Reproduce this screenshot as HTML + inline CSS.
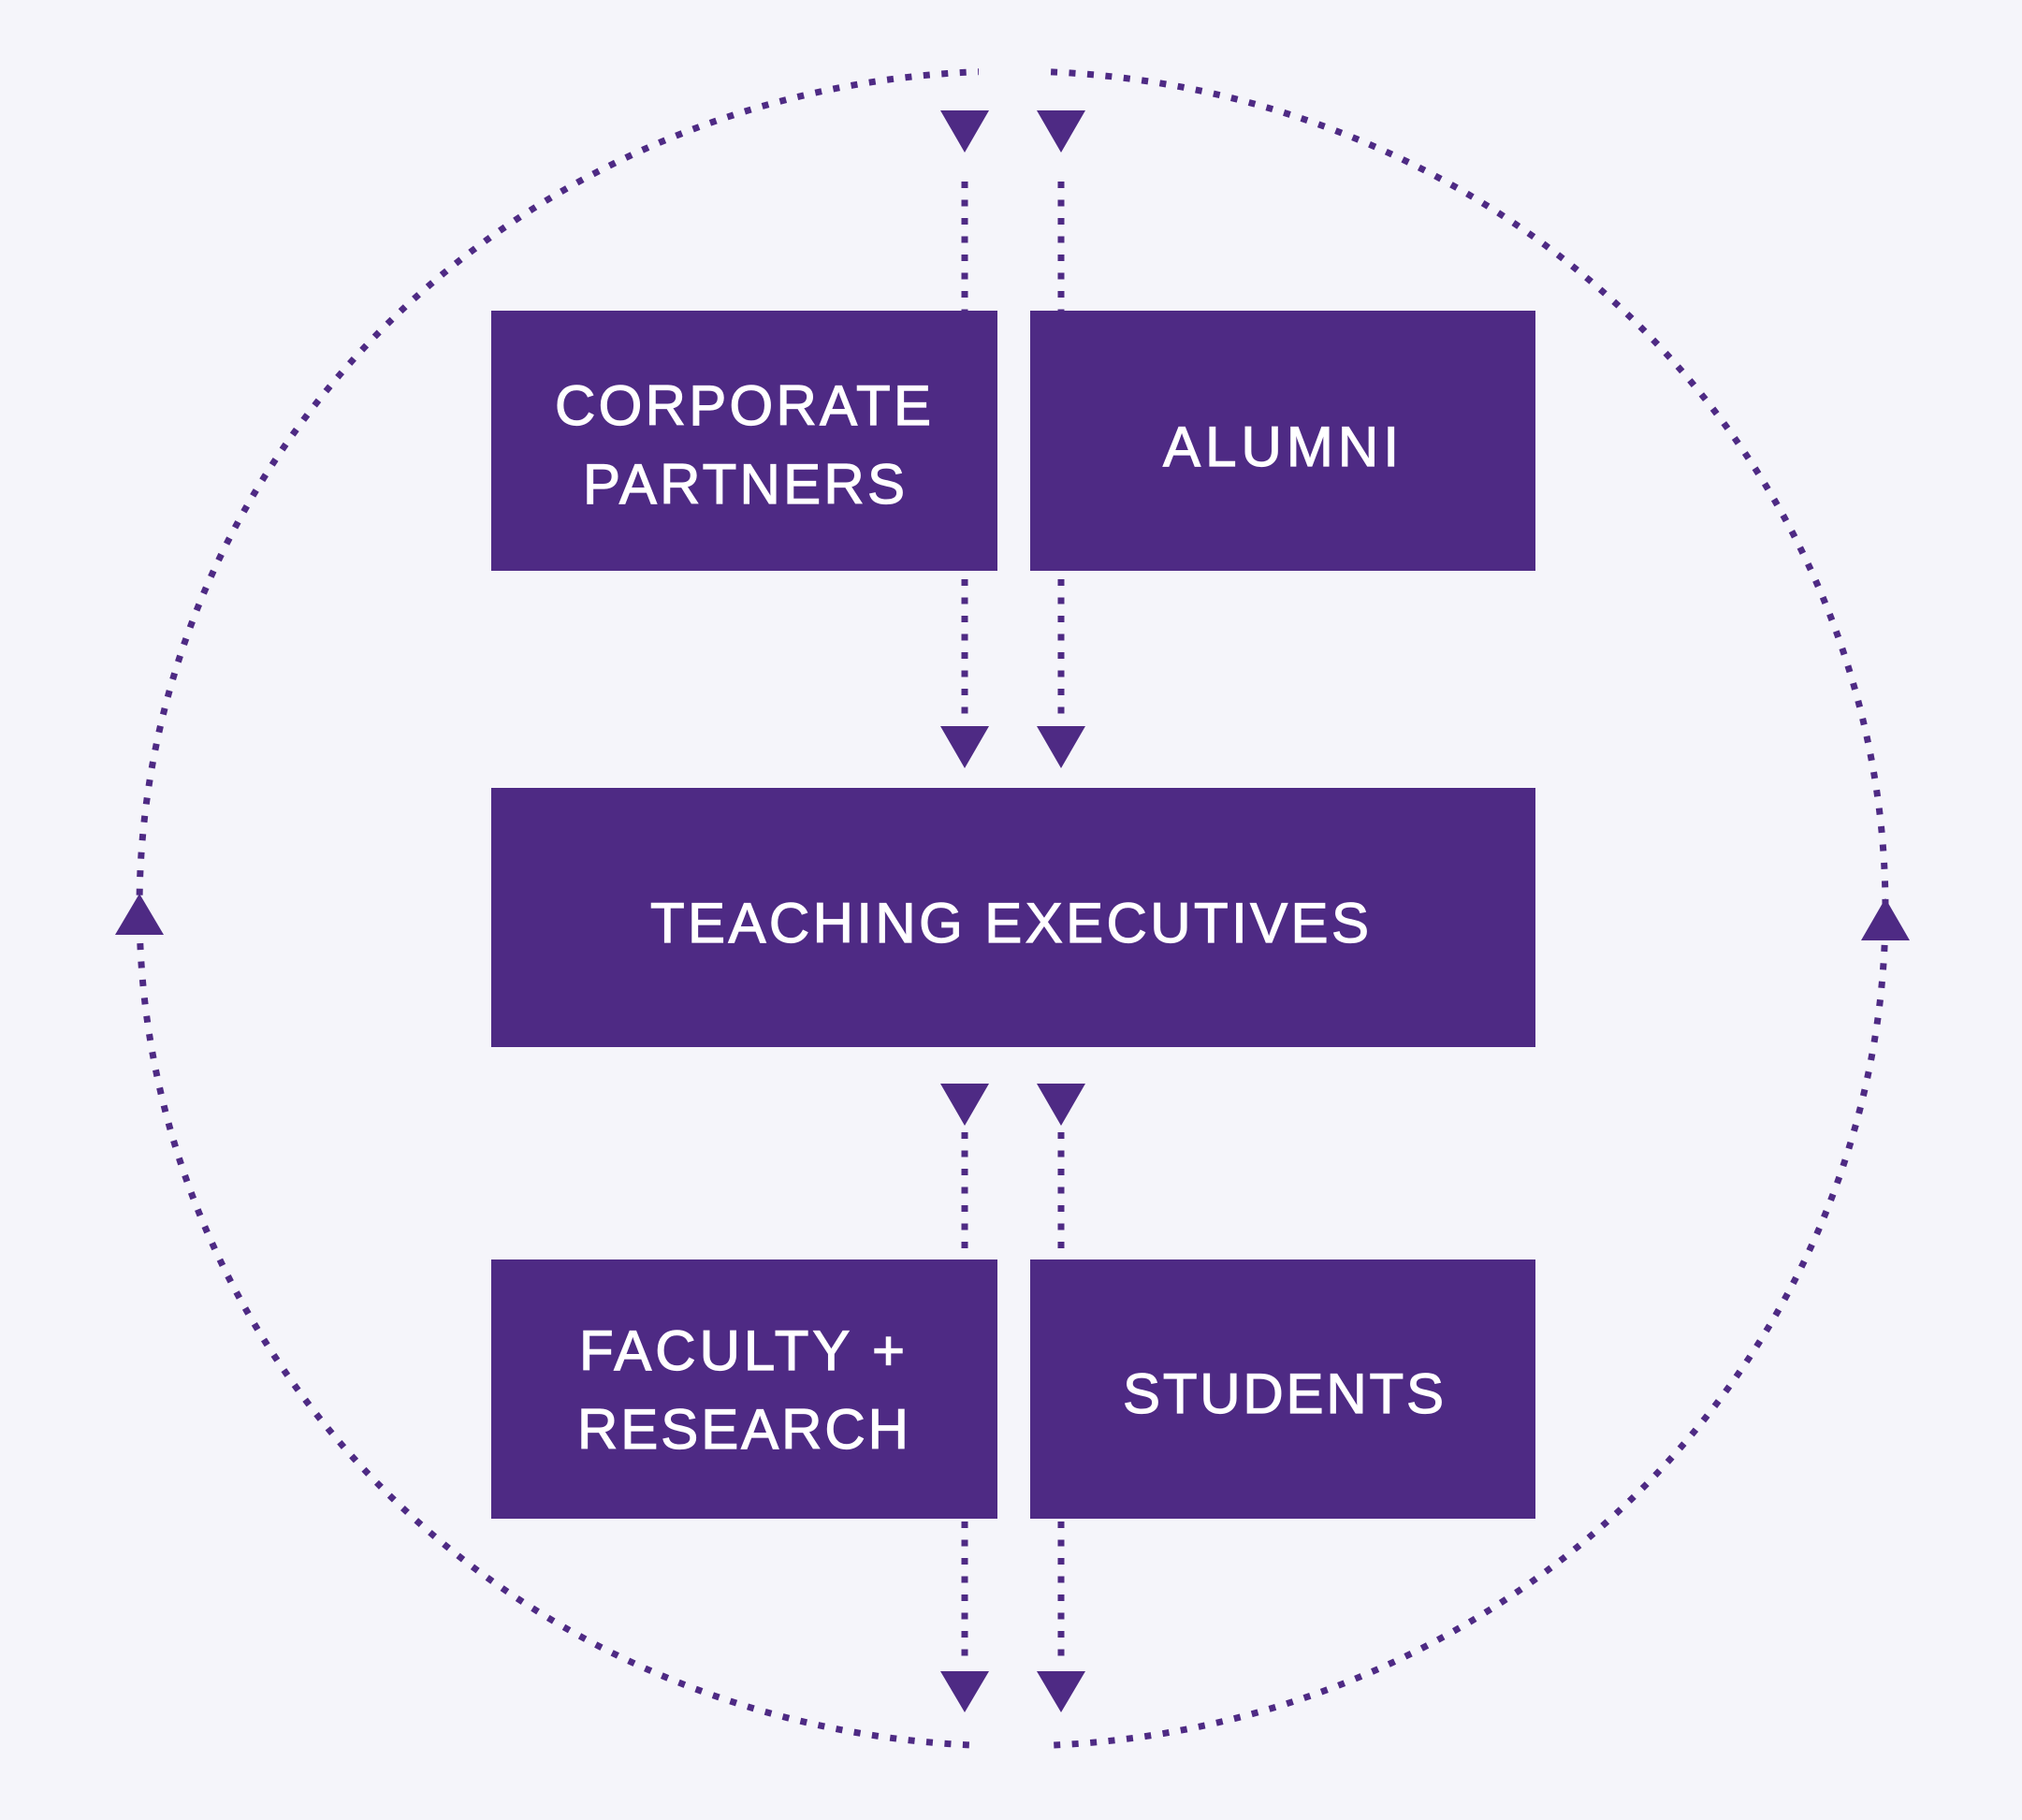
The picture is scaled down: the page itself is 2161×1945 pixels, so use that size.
<!DOCTYPE html>
<html><head><style>html,body{margin:0;padding:0;background:#f5f5fa;}svg{display:block}</style></head>
<body>
<svg width="2161" height="1945" viewBox="0 0 2161 1945" xmlns="http://www.w3.org/2000/svg">
<rect width="2161" height="1945" fill="#f5f5fa"/>
<g fill="none" stroke="#4e2a84" stroke-width="7" stroke-dasharray="7 12.5">
<ellipse cx="1082" cy="971" rx="933" ry="895"/>
<line x1="1031" y1="194" x2="1031" y2="333"/>
<line x1="1134" y1="194" x2="1134" y2="333"/>
<line x1="1031" y1="619" x2="1031" y2="770"/>
<line x1="1134" y1="619" x2="1134" y2="770"/>
<line x1="1031" y1="1210" x2="1031" y2="1340"/>
<line x1="1134" y1="1210" x2="1134" y2="1340"/>
<line x1="1031" y1="1626" x2="1031" y2="1778"/>
<line x1="1134" y1="1626" x2="1134" y2="1778"/>
</g>
<rect x="1046" y="60" width="74" height="40" fill="#f5f5fa"/>
<rect x="1046" y="1845" width="74" height="40" fill="#f5f5fa"/>
<g fill="#4e2a84">
<rect x="525" y="332" width="541" height="278"/>
<rect x="1101" y="332" width="540" height="278"/>
<rect x="525" y="842" width="1116" height="277"/>
<rect x="525" y="1346" width="541" height="277"/>
<rect x="1101" y="1346" width="540" height="277"/>
<polygon points="1005,118 1057,118 1031,163"/>
<polygon points="1108,118 1160,118 1134,163"/>
<polygon points="1005,776 1057,776 1031,821"/>
<polygon points="1108,776 1160,776 1134,821"/>
<polygon points="1005,1158 1057,1158 1031,1203"/>
<polygon points="1108,1158 1160,1158 1134,1203"/>
<polygon points="1005,1786 1057,1786 1031,1830"/>
<polygon points="1108,1786 1160,1786 1134,1830"/>
<polygon points="123,999 175,999 149,955"/>
<polygon points="1989,1005 2041,1005 2015,960"/>
</g>
<g fill="#ffffff" stroke="#ffffff" stroke-width="1.2" font-family="Liberation Sans, sans-serif" font-size="60">
<text x="593" y="454" textLength="402" lengthAdjust="spacing">CORPORATE</text>
<text x="623" y="538" textLength="344" lengthAdjust="spacing">PARTNERS</text>
<text x="1243" y="498" textLength="252" lengthAdjust="spacing">ALUMNI</text>
<text x="695" y="1007" textLength="768" lengthAdjust="spacing">TEACHING EXECUTIVES</text>
<text x="619" y="1464" textLength="348" lengthAdjust="spacing">FACULTY +</text>
<text x="617" y="1548" textLength="354" lengthAdjust="spacing">RESEARCH</text>
<text x="1200" y="1510" textLength="343" lengthAdjust="spacing">STUDENTS</text>
</g>
</svg>
</body></html>
